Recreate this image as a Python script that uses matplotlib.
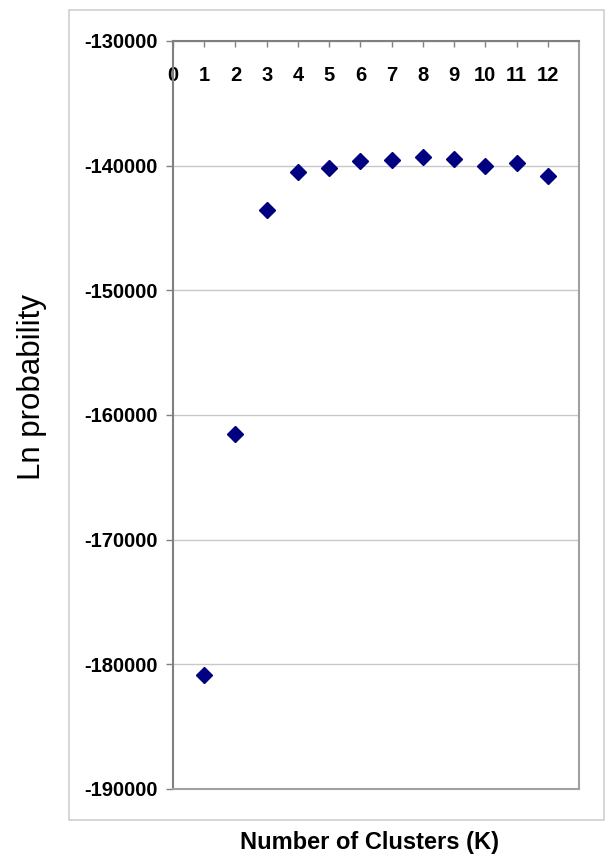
import matplotlib
matplotlib.use('Agg')
import matplotlib.pyplot as plt
from matplotlib.patches import Rectangle

plt.rcParams['font.family'] = ['Liberation Sans', 'DejaVu Sans']

# number of clusters and mean log-likelihood
k_values = [1, 2, 3, 4, 5, 6, 7, 8, 9, 10, 11, 12]
ln_prob = [-180840, -161560, -143550, -140480, -140210, -139620,
           -139520, -139330, -139440, -140000, -139810, -140800]

y_ticks = [-190000, -180000, -170000, -160000, -150000, -140000, -130000]
x_ticks = list(range(0, 13))

fig = plt.figure(figsize=(6.05, 8.57), dpi=100)

# chart area border
fig.patches.append(Rectangle((69 / 605, 1 - 820 / 857), 535 / 605, 810 / 857,
                             transform=fig.transFigure, fill=False,
                             edgecolor='#d0d0d0', linewidth=1.2))

ax = fig.add_axes([173 / 605, 1 - 789 / 857, 406 / 605, 748 / 857])
ax.plot(k_values, ln_prob, linestyle='none', marker='D', markersize=8.5,
        color='#000080', markeredgecolor='#000080')

ax.set_xlim(0, 13)
ax.set_ylim(-190000, -130000)
ax.set_yticks(y_ticks)
ax.set_yticklabels([str(v) for v in y_ticks])
ax.set_xticks(x_ticks)
ax.set_xticklabels([str(v) for v in x_ticks])

ax.yaxis.grid(True, color='#c8c8c8', linewidth=1)
ax.set_axisbelow(True)

for side in ['top', 'bottom', 'left', 'right']:
    ax.spines[side].set_color('#a0a0a0')
    ax.spines[side].set_linewidth(1.5)
ax.spines['left'].set_color('#808080')
ax.spines['top'].set_color('#808080')

ax.tick_params(axis='y', direction='out', length=5, width=1, color='#808080',
               labelsize=14.5, pad=6)
ax.tick_params(axis='x', top=True, bottom=False, labeltop=True, labelbottom=False,
               direction='in', length=4, width=1, color='#808080',
               labelsize=14.5, pad=-32)
for lab in ax.get_xticklabels() + ax.get_yticklabels():
    lab.set_fontweight('bold')

fig.text(32 / 605, 1 - 387 / 857, 'Ln probability', rotation=90,
         fontsize=22.5, ha='center', va='center')
fig.text(370 / 605, 1 - 843 / 857, 'Number of Clusters (K)',
         fontsize=17, fontweight='bold', ha='center', va='center')

fig.savefig('out.png', dpi=100)
